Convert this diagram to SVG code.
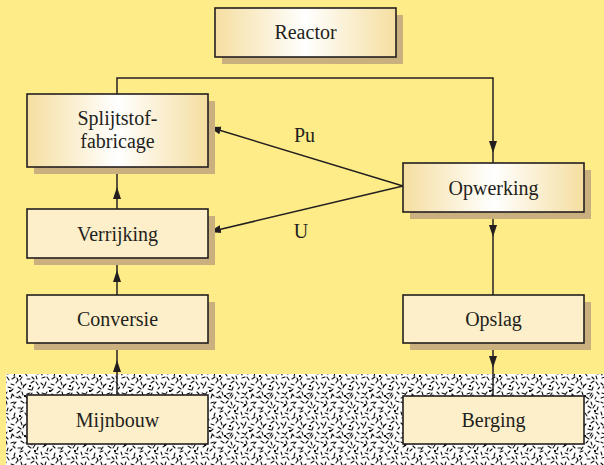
<svg xmlns="http://www.w3.org/2000/svg" width="604" height="465" viewBox="0 0 604 465">
<defs>
<linearGradient id="g" x1="0" y1="0" x2="1" y2="0">
<stop offset="0" stop-color="#f5dea0"/>
<stop offset="0.5" stop-color="#ffffff"/>
<stop offset="1" stop-color="#f5dea0"/>
</linearGradient>
<marker id="ah" markerUnits="userSpaceOnUse" markerWidth="13" markerHeight="9" refX="12" refY="4.5" orient="auto" viewBox="0 0 13 9">
<path d="M0,0.5 L12,4.5 L0,8.5 z" fill="#231f20"/>
</marker>
<pattern id="noise" patternUnits="userSpaceOnUse" width="40" height="40">
<rect width="40" height="40" fill="#ffffff"/>
<path fill="none" stroke="#111" stroke-width="1.1" stroke-linecap="round" d="
M1,2 l2,1 M6,1 l1,3 M11,3 l3,-1 M16,2 l-2,2 M21,1 l3,2 M26,3 l2,-2 M31,2 l1,3 M36,1 l3,1
M3,7 l3,-2 M8,8 l-1,3 M13,6 l2,2 M18,8 l3,0 M23,7 l-2,3 M28,6 l3,2 M33,8 l2,-3 M38,7 l-1,3
M1,12 l1,3 M5,13 l3,1 M10,11 l2,-2 M15,13 l-1,3 M20,12 l3,-1 M25,13 l2,3 M30,11 l-2,2 M35,13 l3,1
M2,18 l3,-1 M7,17 l2,3 M12,19 l3,-2 M17,18 l1,3 M22,17 l-2,3 M27,19 l3,0 M32,17 l2,2 M37,19 l-1,-3
M1,23 l2,2 M6,22 l-1,3 M11,24 l3,1 M16,23 l2,-3 M21,22 l1,3 M26,24 l-2,2 M31,23 l3,-2 M36,22 l2,3
M3,28 l2,-3 M8,27 l3,1 M13,29 l-2,2 M18,27 l3,2 M23,28 l1,-3 M28,29 l3,1 M33,27 l-1,3 M38,29 l2,-2
M2,33 l3,1 M7,32 l-2,3 M12,34 l2,2 M17,33 l3,-2 M22,32 l1,3 M27,34 l3,-1 M32,33 l-2,3 M37,32 l2,2
M1,38 l3,-1 M6,37 l2,2 M11,38 l1,-3 M16,37 l3,1 M21,38 l-2,-2 M26,37 l3,2 M31,38 l2,-3 M36,37 l-1,2"/>
<path fill="#111" d="M4,4 h2 v2 h-2z M19,15 h2 v2 h-2z M29,25 h2 v2 h-2z M9,30 h2 v2 h-2z M34,10 h2 v2 h-2z M24,35 h2 v2 h-2z"/>
</pattern>
<style>
.box{stroke:#231f20;stroke-width:1.6}
.grad{fill:url(#g)}
.solid{fill:#fdefc9}
.shadow{fill:#c9b07e}
.lbl{font-family:"Liberation Serif","Times New Roman",serif;font-size:20px;fill:#231f20;text-anchor:middle}
.conn{fill:none;stroke:#231f20;stroke-width:1.5}
</style>
</defs>
<rect x="0" y="0" width="604" height="465" fill="#fdec87"/>
<rect x="6" y="374" width="598" height="91" fill="url(#noise)"/>

<g id="connectors">
<path class="conn" d="M117,94 V78 H493 V153" marker-end="url(#ah)"/>
<path class="conn" d="M493,153 V163"/>
<path class="conn" d="M117,209 V187" marker-end="url(#ah)"/>
<path class="conn" d="M117,187 V167"/>
<path class="conn" d="M117,295 V270" marker-end="url(#ah)"/>
<path class="conn" d="M117,270 V258"/>
<path class="conn" d="M117,395 V360" marker-end="url(#ah)"/>
<path class="conn" d="M117,360 V343"/>
<path class="conn" d="M493,212 V237" marker-end="url(#ah)"/>
<path class="conn" d="M493,237 V295"/>
<path class="conn" d="M493,343 V368" marker-end="url(#ah)"/>
<path class="conn" d="M493,368 V396"/>
<path class="conn" d="M403,186 L209,127" marker-end="url(#ah)"/>
<path class="conn" d="M403,186 L209,232" marker-end="url(#ah)"/>
<text class="lbl" x="304.5" y="142">Pu</text>
<text class="lbl" x="301" y="238">U</text>
</g>

<g id="reactor">
<rect class="shadow" x="222" y="15" width="181" height="49"/>
<rect class="box grad" x="215" y="8" width="181" height="49"/>
<text class="lbl" x="305.5" y="39">Reactor</text>
</g>
<g id="splijtstoffabricage">
<rect class="shadow" x="34" y="101" width="181" height="73"/>
<rect class="box grad" x="27" y="94" width="181" height="73"/>
<text class="lbl" x="117.5" y="125">Splijtstof-</text>
<text class="lbl" x="117.5" y="148">fabricage</text>
</g>
<g id="opwerking">
<rect class="shadow" x="410" y="170" width="181" height="49"/>
<rect class="box grad" x="403" y="163" width="181" height="49"/>
<text class="lbl" x="493.5" y="195">Opwerking</text>
</g>
<g id="verrijking">
<rect class="shadow" x="34" y="216" width="181" height="49"/>
<rect class="box solid" x="27" y="209" width="181" height="49"/>
<text class="lbl" x="117.5" y="241">Verrijking</text>
</g>
<g id="conversie">
<rect class="shadow" x="34" y="302" width="181" height="48"/>
<rect class="box solid" x="27" y="295" width="181" height="48"/>
<text class="lbl" x="117.5" y="326">Conversie</text>
</g>
<g id="opslag">
<rect class="shadow" x="410" y="302" width="181" height="48"/>
<rect class="box solid" x="403" y="295" width="181" height="48"/>
<text class="lbl" x="493.5" y="326">Opslag</text>
</g>
<g id="mijnbouw">
<rect class="box solid" x="27" y="395" width="181" height="49"/>
<text class="lbl" x="117.5" y="427">Mijnbouw</text>
</g>
<g id="berging">
<rect class="box solid" x="403" y="396" width="181" height="48"/>
<text class="lbl" x="493.5" y="427">Berging</text>
</g>
</svg>
